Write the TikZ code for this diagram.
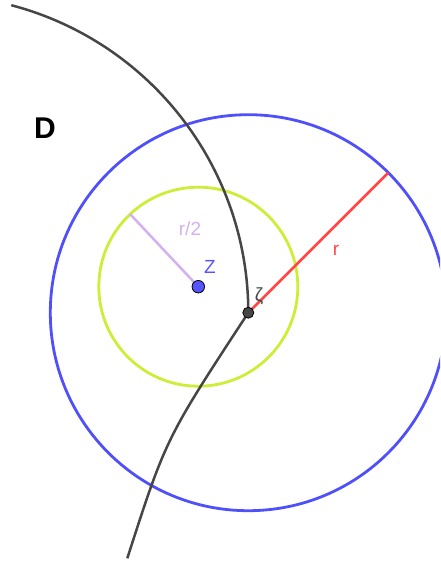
\documentclass[tikz,border=0pt]{standalone}
\usepackage{fontspec}
\setmainfont{Liberation Sans}
\definecolor{cblue}{RGB}{80,80,250}
\definecolor{cgreen}{RGB}{205,238,55}
\definecolor{cred}{RGB}{255,70,70}
\definecolor{cpurp}{RGB}{212,176,240}
\definecolor{cdark}{RGB}{70,70,70}
\definecolor{cptblue}{RGB}{85,85,255}
\tikzset{
  bluecirc/.style={draw=cblue,line width=2.8pt},
  greencirc/.style={draw=cgreen,line width=2.8pt},
  curvestyle/.style={draw=cdark,line width=2.5pt},
  redline/.style={draw=cred,line width=2.5pt},
  purpline/.style={draw=cpurp,line width=2.5pt},
  ptstyle/.style={circle,draw=black,line width=0.8pt,inner sep=0pt,minimum size=11pt},
  lbl/.style={font=\fontsize{19}{19}\selectfont,inner sep=0pt}
}
\begin{document}
\begin{tikzpicture}[x=1pt,y=-1pt]
\useasboundingbox (0,0) rectangle (440,565);
\clip (0,0) rectangle (440,565);
\coordinate (zeta) at (248.3,312.7);
\coordinate (Zc) at (198.3,286.7);
\coordinate (rEnd) at (388.3,172.7);
\coordinate (hEnd) at (130,214);
\draw[bluecirc] (zeta) circle[radius=198];
\draw[greencirc] (Zc) circle[radius=99.5];
\draw[curvestyle] (zeta) arc[start angle=0,end angle=-75.24,radius=318];
\draw[curvestyle] (zeta) .. controls (165.9,438.4) .. (127.3,558.3);
\draw[redline] (zeta) -- (rEnd);
\draw[purpline] (Zc) -- (hEnd);
\node[ptstyle,fill=cptblue,minimum size=12.5pt] (Z) at (Zc) {};
\node[ptstyle,fill=cdark] (zp) at (zeta) {};
\node[font=\fontsize{30}{30}\selectfont\bfseries,inner sep=0pt] (D) at (45,128) {D};
\node[lbl,text=cptblue] (Zl) at (210,266.5) {Z};
\node[lbl,text=cdark] (zl) at (259,296) {ζ};
\node[lbl,text=cred] (rl) at (336,250) {r};
\node[lbl,text=cpurp] (hl) at (190,229) {r/2};
\end{tikzpicture}
\end{document}
